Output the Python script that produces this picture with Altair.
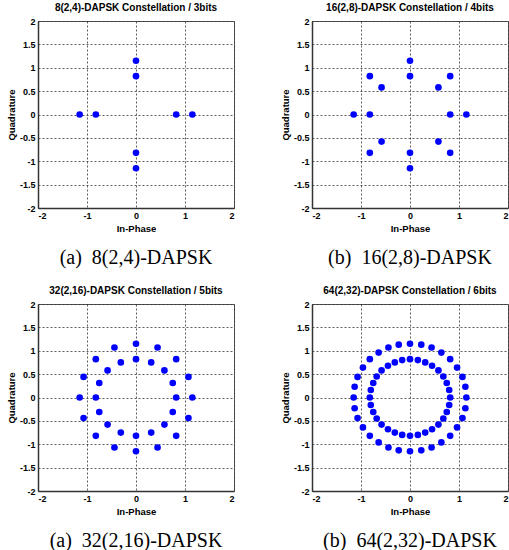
import altair as alt
import pandas as pd

# Panel titles and captions
TITLES = [
    "8(2,4)-DAPSK Constellation / 3bits",
    "16(2,8)-DAPSK Constellation / 4bits",
    "32(2,16)-DAPSK Constellation / 5bits",
    "64(2,32)-DAPSK Constellation / 6bits",
]
CAPTIONS = [
    "(a)\u00a0 8(2,4)-DAPSK",
    "(b)\u00a0 16(2,8)-DAPSK",
    "(a)\u00a0 32(2,16)-DAPSK",
    "(b)\u00a0 64(2,32)-DAPSK",
]

X_TICKS = [-2, -1, 0, 1, 2]
Y_TICKS = [-2, -1.5, -1, -0.5, 0, 0.5, 1, 1.5, 2]

# Constellation points (in-phase, quadrature)
I_8 = [0.82, 1.15, 0.00, 0.00, -0.82, -1.15, 0.00, 0.00]
Q_8 = [0.00, 0.00, 0.82, 1.15, 0.00, 0.00, -0.82, -1.15]

I_16 = [0.82, 0.58, 0.00, -0.58, -0.82, -0.58, 0.00, 0.58,
        1.15, 0.82, 0.00, -0.82, -1.15, -0.82, 0.00, 0.82]
Q_16 = [0.00, 0.58, 0.82, 0.58, 0.00, -0.58, -0.82, -0.58,
        0.00, 0.82, 1.15, 0.82, 0.00, -0.82, -1.15, -0.82]

I_32 = [0.82, 0.75, 0.58, 0.31, 0.00, -0.31, -0.58, -0.75,
        -0.82, -0.75, -0.58, -0.31, 0.00, 0.31, 0.58, 0.75,
        1.15, 1.07, 0.82, 0.44, 0.00, -0.44, -0.82, -1.07,
        -1.15, -1.07, -0.82, -0.44, 0.00, 0.44, 0.82, 1.07]
Q_32 = [0.00, 0.31, 0.58, 0.75, 0.82, 0.75, 0.58, 0.31,
        0.00, -0.31, -0.58, -0.75, -0.82, -0.75, -0.58, -0.31,
        0.00, 0.44, 0.82, 1.07, 1.15, 1.07, 0.82, 0.44,
        0.00, -0.44, -0.82, -1.07, -1.15, -1.07, -0.82, -0.44]

I_64 = [0.82, 0.80, 0.75, 0.68, 0.58, 0.45, 0.31, 0.16,
        0.00, -0.16, -0.31, -0.45, -0.58, -0.68, -0.75, -0.80,
        -0.82, -0.80, -0.75, -0.68, -0.58, -0.45, -0.31, -0.16,
        0.00, 0.16, 0.31, 0.45, 0.58, 0.68, 0.75, 0.80,
        1.15, 1.13, 1.07, 0.96, 0.82, 0.64, 0.44, 0.23,
        0.00, -0.23, -0.44, -0.64, -0.82, -0.96, -1.07, -1.13,
        -1.15, -1.13, -1.07, -0.96, -0.82, -0.64, -0.44, -0.23,
        0.00, 0.23, 0.44, 0.64, 0.82, 0.96, 1.07, 1.13]
Q_64 = [0.00, 0.16, 0.31, 0.45, 0.58, 0.68, 0.75, 0.80,
        0.82, 0.80, 0.75, 0.68, 0.58, 0.45, 0.31, 0.16,
        0.00, -0.16, -0.31, -0.45, -0.58, -0.68, -0.75, -0.80,
        -0.82, -0.80, -0.75, -0.68, -0.58, -0.45, -0.31, -0.16,
        0.00, 0.23, 0.44, 0.64, 0.82, 0.96, 1.07, 1.13,
        1.15, 1.13, 1.07, 0.96, 0.82, 0.64, 0.44, 0.23,
        0.00, -0.23, -0.44, -0.64, -0.82, -0.96, -1.07, -1.13,
        -1.15, -1.13, -1.07, -0.96, -0.82, -0.64, -0.44, -0.23]

PW, PH = 196, 187
SANS = "Liberation Sans"
SERIF = "Liberation Serif"


def panel(xs, ys, title, caption):
    df = pd.DataFrame({"I": xs, "Q": ys})
    x = alt.X("I:Q", scale=alt.Scale(domain=[-2, 2], nice=False, zero=False),
              axis=alt.Axis(values=X_TICKS, title="In-Phase",
                            labelExpr="'' + datum.value"))
    y = alt.Y("Q:Q", scale=alt.Scale(domain=[-2, 2], nice=False, zero=False),
              axis=alt.Axis(values=Y_TICKS, title="Quadrature",
                            labelExpr="'' + datum.value"))
    pts = alt.Chart(df).mark_circle(size=44, color="#0000ff", opacity=1).encode(x=x, y=y)
    cap = alt.Chart(pd.DataFrame({"c": [caption]})).mark_text(
        font=SERIF, fontSize=20, baseline="middle", color="black"
    ).encode(text="c:N", x=alt.value(PW / 2), y=alt.value(PH + 50))
    return alt.layer(pts, cap).properties(
        width=PW, height=PH,
        title=alt.TitleParams(title, fontSize=10, font=SANS, fontWeight="bold",
                              color="black", offset=4),
    )


p1 = panel(I_8, Q_8, TITLES[0], CAPTIONS[0])
p2 = panel(I_16, Q_16, TITLES[1], CAPTIONS[1])
p3 = panel(I_32, Q_32, TITLES[2], CAPTIONS[2])
p4 = panel(I_64, Q_64, TITLES[3], CAPTIONS[3])

chart = alt.vconcat(
    alt.hconcat(p1, p2, spacing=44),
    alt.hconcat(p3, p4, spacing=44),
    spacing=16,
).properties(
    padding={"left": 5, "top": 2, "right": 0, "bottom": 0},
    background="white",
).configure_view(
    stroke="#555555", strokeWidth=1
).configure_axis(
    labelFont=SANS, labelFontWeight="bold", labelFontSize=9, labelColor="black",
    titleFont=SANS, titleFontWeight="bold", titleFontSize=9.5, titleColor="black",
    grid=True, gridColor="#333333", gridDash=[2, 2], gridWidth=0.8,
    domain=True, domainColor="#333333", domainWidth=1.5,
    ticks=False, labelPadding=3, titlePadding=3,
)

chart.save("out.html", embed_options={"renderer": "svg", "actions": False})
